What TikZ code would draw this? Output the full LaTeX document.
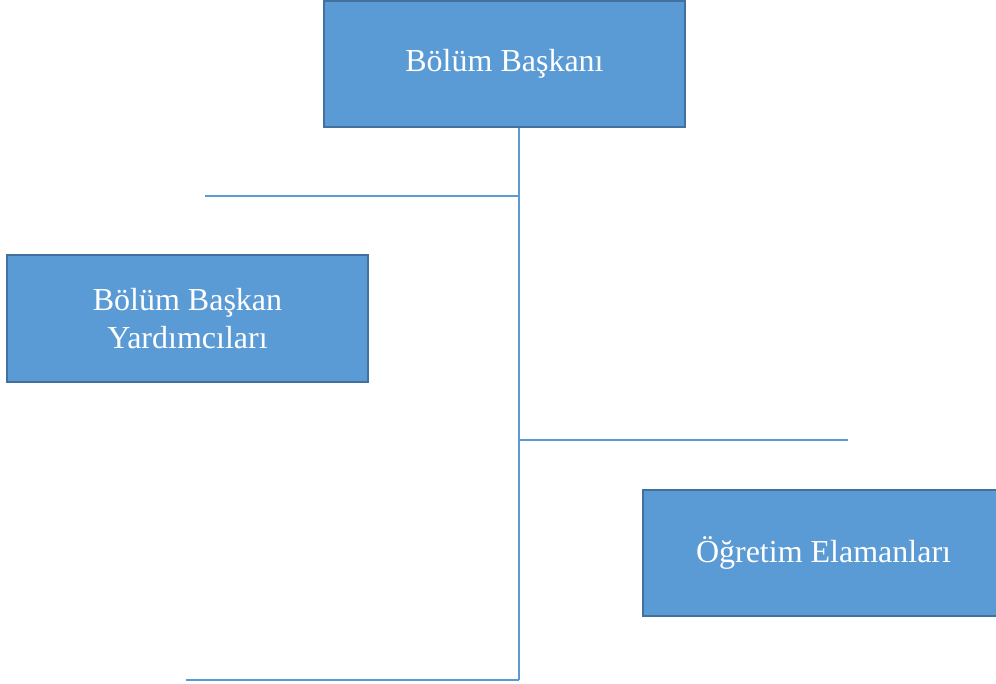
\documentclass[tikz,border=0pt]{standalone}
\usepackage{fontspec}
\setmainfont{Liberation Serif}
\usetikzlibrary{calc}

\definecolor{boxfill}{HTML}{5B9BD5}
\definecolor{boxedge}{HTML}{41719C}

\tikzset{
  unitbox/.style={draw=boxedge, line width=1.5pt, fill=boxfill, text=white,
    minimum width=270.75pt, minimum height=94.5pt, align=center,
    font=\fontsize{24}{28.5}\selectfont},
  branch/.style={draw=boxfill, line width=0.8pt}
}

\begin{document}
\begin{tikzpicture}[x=0.75pt, y=-0.75pt]
\clip (0,0) rectangle (996,684);
\fill[white] (0,0) rectangle (996,684);
% boxes
\node[unitbox] (head) at (504.5,64) {Bölüm Başkanı};
\node[unitbox] (deputy) at (187.5,318.5) {Bölüm Başkan\\Yardımcıları};
\node[unitbox] (staff) at (823.5,552.5) {Öğretim Elamanları};
% lines
\coordinate (trunk) at (519,680);
\coordinate (leftA) at (205,196);
\coordinate (rightA) at (848,440);
\coordinate (leftB) at (186,680);
\draw[branch] (head.south -| trunk) -- (trunk);
\draw[branch] (leftA) -- (leftA -| trunk);
\draw[branch] (rightA -| trunk) -- (rightA);
\draw[branch] (leftB) -- (trunk);
\end{tikzpicture}
\end{document}
